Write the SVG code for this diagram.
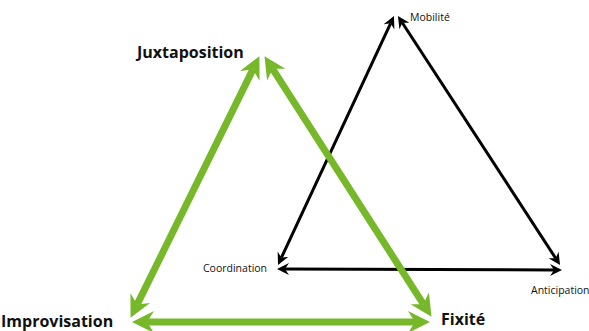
<svg xmlns="http://www.w3.org/2000/svg" width="589" height="331" viewBox="0 0 589 331">
<style>
.big{font-family:"Open Sans","Noto Sans",sans-serif;font-weight:bold;font-size:16px;fill:#111}
.small{font-family:"Open Sans","Noto Sans",sans-serif;font-size:10.5px;fill:#111}
.g{stroke:#76b82a;stroke-width:7;fill:none}
.k{stroke:#000;stroke-width:3;fill:none}
</style>
<defs>
<marker id="ga" markerUnits="userSpaceOnUse" viewBox="0 0 22 22" markerWidth="22" markerHeight="22" refX="7" refY="11" orient="auto-start-reverse">
<path d="M0,0 L22,11 L0,22 L7,11 z" fill="#76b82a"/>
</marker>
<marker id="ka" markerUnits="userSpaceOnUse" viewBox="0 0 12 12" markerWidth="12" markerHeight="12" refX="4" refY="6" orient="auto-start-reverse">
<path d="M0,0 L12,6 L0,12 L4,6 z" fill="#000"/>
</marker>
</defs>
<g id="connectors">
<line class="k" x1="281.4" y1="257.7" x2="390.6" y2="23.3" marker-start="url(#ka)" marker-end="url(#ka)"/>
<line class="k" x1="402.3" y1="22.7" x2="555.7" y2="258.3" marker-start="url(#ka)" marker-end="url(#ka)"/>
<line class="k" x1="285" y1="269" x2="554" y2="270" marker-start="url(#ka)" marker-end="url(#ka)"/>
<line class="g" x1="137.2" y1="304.4" x2="252.8" y2="69.6" marker-start="url(#ga)" marker-end="url(#ga)"/>
<line class="g" x1="272.6" y1="68.8" x2="423.4" y2="304.2" marker-start="url(#ga)" marker-end="url(#ga)"/>
<line class="g" x1="147" y1="322" x2="415" y2="322" marker-start="url(#ga)" marker-end="url(#ga)"/>
</g>
<g id="juxtaposition"><text class="big" x="137" y="58">Juxtaposition</text></g>
<g id="improvisation"><text class="big" x="1" y="327">Improvisation</text></g>
<g id="fixite"><text class="big" x="441" y="325">Fixité</text></g>
<g id="mobilite"><text class="small" x="410" y="21">Mobilité</text></g>
<g id="coordination"><text class="small" x="203" y="272">Coordination</text></g>
<g id="anticipation"><text class="small" x="531" y="294">Anticipation</text></g>
</svg>
